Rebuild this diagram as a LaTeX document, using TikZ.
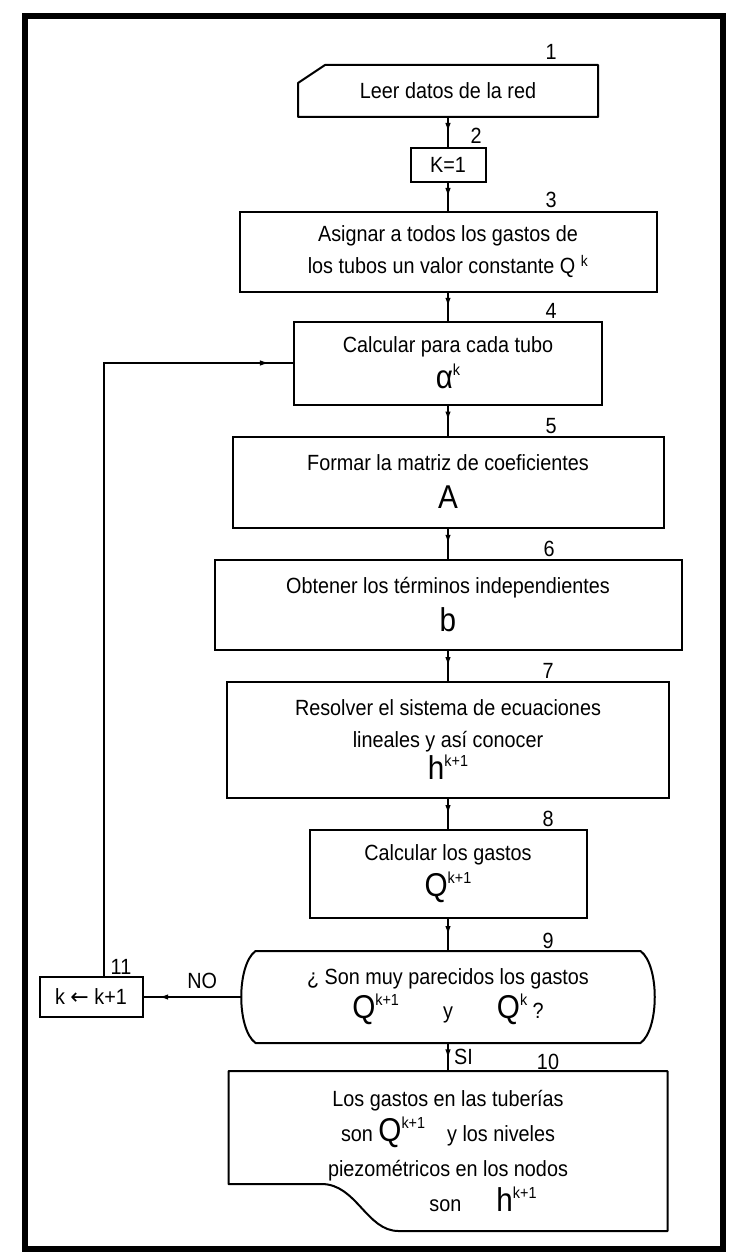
\documentclass[tikz,border=0pt]{standalone}
\usepackage{fontspec}
\setmainfont{Liberation Sans}[FakeStretch=0.9]
\newfontfamily\arrowfont{DejaVu Sans}
\usepackage{tikz}
\usetikzlibrary{calc}
\usetikzlibrary {arrows.meta,decorations.markings}
\usetikzlibrary {positioning}

\newcommand{\bigsym}[2]{{\fontsize{33}{33}\selectfont #1}\raisebox{13pt}{\fontsize{16}{16}\selectfont #2}}

\tikzset{
  box/.style={draw, line width=2pt, inner sep=0pt, align=center, font=\fontsize{22}{32}\selectfont},
  plain/.style={box, draw=none},
  num/.style={inner sep=1pt, anchor=south, font=\fontsize{22}{22}\selectfont},
  flow/.style={line width=1.5pt, postaction={decorate},
    decoration={markings, mark=at position #1 with {\arrow{Latex[length=9pt,width=5.5pt]}}}},
  flow/.default=0.5,
  outline/.style={line width=2pt, line join=round}
}

\begin{document}
\begin{tikzpicture}[x=1pt, y=-1pt]
		\useasboundingbox (0,0) rectangle (736,1260);
		\draw[line width=6pt] (25,16) rectangle (723,1249); %% frame

		% steps
		\node[plain, minimum width=298pt, minimum height=50pt] (n1) at (448,91) {Leer datos de la red};
		\draw[outline] ($(n1.north west)+(27,0)$) -- (n1.north east) -- (n1.south east) -- (n1.south west) -- ($(n1.north west)+(0,18)$) -- cycle; %% input card
		\node[box, minimum width=75pt, minimum height=34pt] (n2) at (448,165) {K=1};
		\node[box, minimum width=417pt, minimum height=80pt] (n3) at (448,252) {Asignar a todos los gastos de\\ los tubos un valor constante Q~\textsuperscript{k}};
		\node[box, minimum width=308pt, minimum height=83pt] (n4) at (448,363) {Calcular para cada tubo\\[4pt] \bigsym{α}{k}};
		\node[box, minimum width=431pt, minimum height=91pt] (n5) at (448,482) {Formar la matriz de coeficientes\\[6pt] {\fontsize{33}{33}\selectfont A}};
		\node[box, minimum width=467pt, minimum height=90pt] (n6) at (448,605) {Obtener los términos independientes\\[6pt] {\fontsize{33}{33}\selectfont b}};
		\node[box, minimum width=442pt, minimum height=116pt] (n7) at (448,740) {Resolver el sistema de ecuaciones\\ lineales y así conocer\\ \bigsym{h}{k+1}};
		\node[box, minimum width=277pt, minimum height=88pt] (n8) at (448,874) {Calcular los gastos\\[4pt] \bigsym{Q}{k+1}};
		\node[plain, minimum width=383pt, minimum height=90pt] (n9) at (448,997) {¿ Son muy parecidos los gastos\\[2pt] \bigsym{Q}{k+1}\qquad y\qquad\bigsym{Q}{k} ?};
		\draw[outline] (n9.north west) -- (n9.north east) .. controls ($(n9.north east)+(19,14)$) and ($(n9.south east)+(19,-14)$) .. (n9.south east) -- (n9.south west) .. controls ($(n9.south west)+(-19,-14)$) and ($(n9.north west)+(-19,14)$) .. (n9.north west) -- cycle; %% decision
		\coordinate (n9l) at ($(n9.west)+(-14,0)$);
		\node[plain, minimum width=437pt, minimum height=158pt, font=\fontsize{22}{35}\selectfont] (n10) at (448,1151) {Los gastos en las tuberías\\ son \bigsym{Q}{k+1}\quad y los niveles\\ piezométricos en los nodos\\ \hspace*{70pt}son\hspace{35pt}\bigsym{h}{k+1}};
		\draw[outline] (n10.north west) -- (n10.north east) -- (n10.south east) -- ($(n10.south west)+(170,0)$) .. controls ($(n10.south west)+(138,0)$) and ($(n10.south west)+(128,-47)$) .. ($(n10.south west)+(93,-47)$) -- ($(n10.south west)+(0,-47)$) -- cycle; %% output
		\node[box, minimum width=103pt, minimum height=40pt] (n11) at (91,997) {k {\arrowfont ←} k+1};

		% step numbers
		\node[num] (t1) at ($(n1.north)+(103,-4)$) {1};
		\node[num] (t2) at ($(n2.north)+(28,-2)$) {2};
		\node[num] (t3) at ($(n3.north)+(103,-2)$) {3};
		\node[num] (t4) at ($(n4.north)+(103,-1)$) {4};
		\node[num] (t5) at ($(n5.north)+(103,-1)$) {5};
		\node[num] (t6) at ($(n6.north)+(101,-1)$) {6};
		\node[num] (t7) at ($(n7.north)+(100,-1)$) {7};
		\node[num] (t8) at ($(n8.north)+(100,-1)$) {8};
		\node[num] (t9) at ($(n9.north)+(100,-1)$) {9};
		\node[num] (t10) at ($(n10.north)+(100,0)$) {10};
		\node[num] (t11) at ($(n11.north)+(30,0)$) {11};

		% connectors
		\draw[flow] (n1) -- (n2);
		\draw[flow] (n2) -- (n3);
		\draw[flow] (n3) -- (n4);
		\draw[flow] (n4) -- (n5);
		\draw[flow] (n5) -- (n6);
		\draw[flow] (n6) -- (n7);
		\draw[flow] (n7) -- (n8);
		\draw[flow] (n8) -- (n9);
		\draw[flow=0.55] (n9) -- (n10) node[pos=0.5, right=2pt, font=\fontsize{22}{22}\selectfont] {SI};
		\draw[flow=0.84] (n9l) -- (n11.east) node[pos=0.4, above=4pt, font=\fontsize{22}{22}\selectfont] {NO};
		\draw[flow=0.97, line width=1.2pt] ([xshift=13pt]n11.north) |- (n4.west); %% back to step 4
	\end{tikzpicture}
\end{document}
